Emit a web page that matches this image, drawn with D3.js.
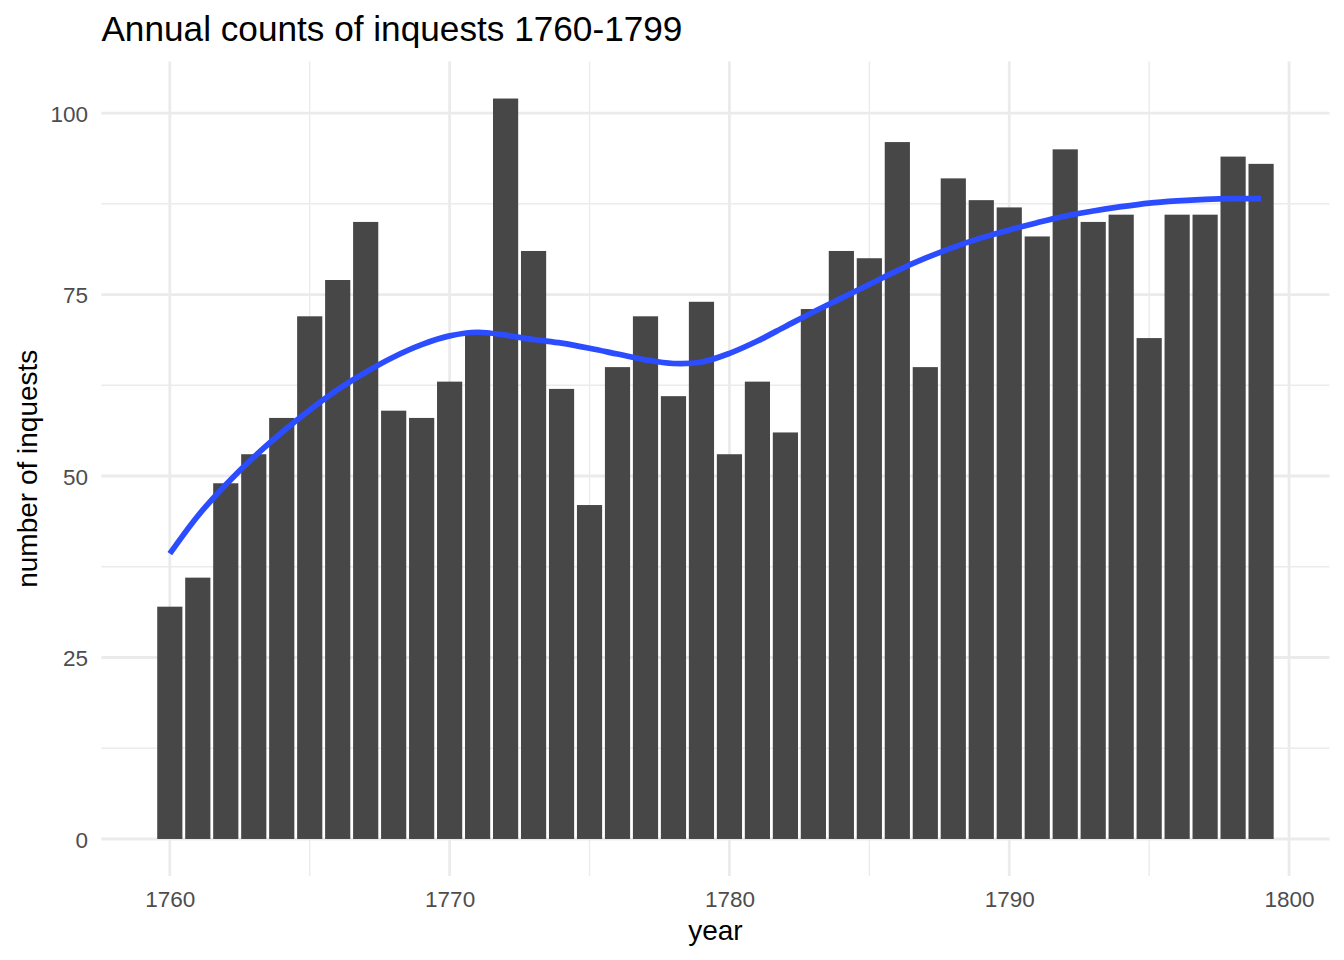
<!DOCTYPE html>
<html>
<head>
<meta charset="utf-8">
<style>
    body { margin: 0; background: white; }
    svg { display: block; font-family: "Liberation Sans", Arial, sans-serif; }
    .grid-major { stroke: #ebebeb; stroke-width: 2.8; }
    .grid-minor { stroke: #ebebeb; stroke-width: 1.4; }
    .bar { fill: #474747; }
    .smooth { fill: none; stroke: #2c4cff; stroke-width: 5.7; stroke-linecap: butt; }
    .tick text { fill: #4d4d4d; font-size: 22.5px; }
</style>
</head>
<body>
<script src="https://cdn.jsdelivr.net/npm/d3@7"></script>
<script>
// counts, 1760-1799
var years = d3.range(1760, 1800);
var counts = [32, 36, 49, 53, 58, 72, 77, 85, 59, 58,
              63, 70, 102, 81, 62, 46, 65, 72, 61, 74,
              53, 63, 56, 73, 81, 80, 96, 65, 91, 88,
              87, 83, 95, 85, 86, 69, 86, 86, 94, 93];
// loess curve, one value per year
var smooth = [39.3, 44.5, 48.8, 52.6, 56.0, 59.1, 61.9, 64.3, 66.4, 68.1,
              69.3, 69.8, 69.4, 68.8, 68.3, 67.6, 66.8, 66.0, 65.5, 65.7,
              66.9, 68.6, 70.6, 72.6, 74.5, 76.4, 78.3, 80.0, 81.5, 82.8,
              83.9, 84.9, 85.8, 86.5, 87.1, 87.6, 87.9, 88.1, 88.2, 88.2];
var xMajor = [1760, 1770, 1780, 1790, 1800];
var xMinor = [1765, 1775, 1785, 1795];
var yMajor = [0, 25, 50, 75, 100];
var yMinor = [12.5, 37.5, 62.5, 87.5];

var width = 1344, height = 960;
var panel = { left: 101.4, right: 1329.5, top: 61.5, bottom: 876 };

var svg = d3.select("body").append("svg")
    .attr("width", width)
    .attr("height", height);

// ggplot style 5% expansion around the bars
var xLo = years[0] - 0.45, xHi = years[years.length - 1] + 0.45;
var xPad = (xHi - xLo) * 0.05;
var x = d3.scaleLinear()
    .domain([xLo - xPad, xHi + xPad])
    .range([panel.left, panel.right]);

var yMax = d3.max(counts);
var y = d3.scaleLinear()
    .domain([-yMax * 0.05, yMax * 1.05])
    .range([panel.bottom, panel.top]);

// grid
var grid = svg.append("g");
grid.selectAll(".gx-minor").data(xMinor).enter().append("line")
    .attr("class", "grid-minor")
    .attr("x1", function (d) { return x(d); }).attr("x2", function (d) { return x(d); })
    .attr("y1", panel.top).attr("y2", panel.bottom);
grid.selectAll(".gy-minor").data(yMinor).enter().append("line")
    .attr("class", "grid-minor")
    .attr("y1", function (d) { return y(d); }).attr("y2", function (d) { return y(d); })
    .attr("x1", panel.left).attr("x2", panel.right);
grid.selectAll(".gx-major").data(xMajor).enter().append("line")
    .attr("class", "grid-major")
    .attr("x1", function (d) { return x(d); }).attr("x2", function (d) { return x(d); })
    .attr("y1", panel.top).attr("y2", panel.bottom);
grid.selectAll(".gy-major").data(yMajor).enter().append("line")
    .attr("class", "grid-major")
    .attr("y1", function (d) { return y(d); }).attr("y2", function (d) { return y(d); })
    .attr("x1", panel.left).attr("x2", panel.right);

// bars
svg.append("g").selectAll("rect")
    .data(years)
    .enter().append("rect")
    .attr("class", "bar")
    .attr("x", function (d) { return x(d - 0.45); })
    .attr("width", function (d) { return x(d + 0.45) - x(d - 0.45); })
    .attr("y", function (d, i) { return y(counts[i]); })
    .attr("height", function (d, i) { return y(0) - y(counts[i]); });

// smooth line
var line = d3.line()
    .x(function (d, i) { return x(years[i]); })
    .y(function (d) { return y(d); })
    .curve(d3.curveCatmullRom);

svg.append("path")
    .datum(smooth)
    .attr("class", "smooth")
    .attr("d", line);

// axes (labels only, like theme_minimal)
var xAxis = svg.append("g")
    .attr("transform", "translate(0," + panel.bottom + ")")
    .call(d3.axisBottom(x).tickValues(xMajor).tickFormat(d3.format("d")).tickSize(0).tickPadding(13));
xAxis.select(".domain").remove();
xAxis.selectAll("text").attr("dy", null).attr("y", 30.5);

var yAxis = svg.append("g")
    .attr("transform", "translate(" + panel.left + ",0)")
    .call(d3.axisLeft(y).tickValues(yMajor).tickSize(0).tickPadding(13.4));
yAxis.select(".domain").remove();
yAxis.selectAll("text").attr("dy", "0.36em");

// titles
svg.append("text")
    .attr("x", panel.left)
    .attr("y", 41)
    .attr("font-size", 35.2)
    .attr("fill", "black")
    .text("Annual counts of inquests 1760-1799");

svg.append("text")
    .attr("x", (panel.left + panel.right) / 2)
    .attr("y", 940)
    .attr("text-anchor", "middle")
    .attr("font-size", 28)
    .attr("fill", "black")
    .text("year");

svg.append("text")
    .attr("transform", "translate(37," + ((panel.top + panel.bottom) / 2) + ") rotate(-90)")
    .attr("text-anchor", "middle")
    .attr("font-size", 28)
    .attr("fill", "black")
    .text("number of inquests");
</script>
</body>
</html>
